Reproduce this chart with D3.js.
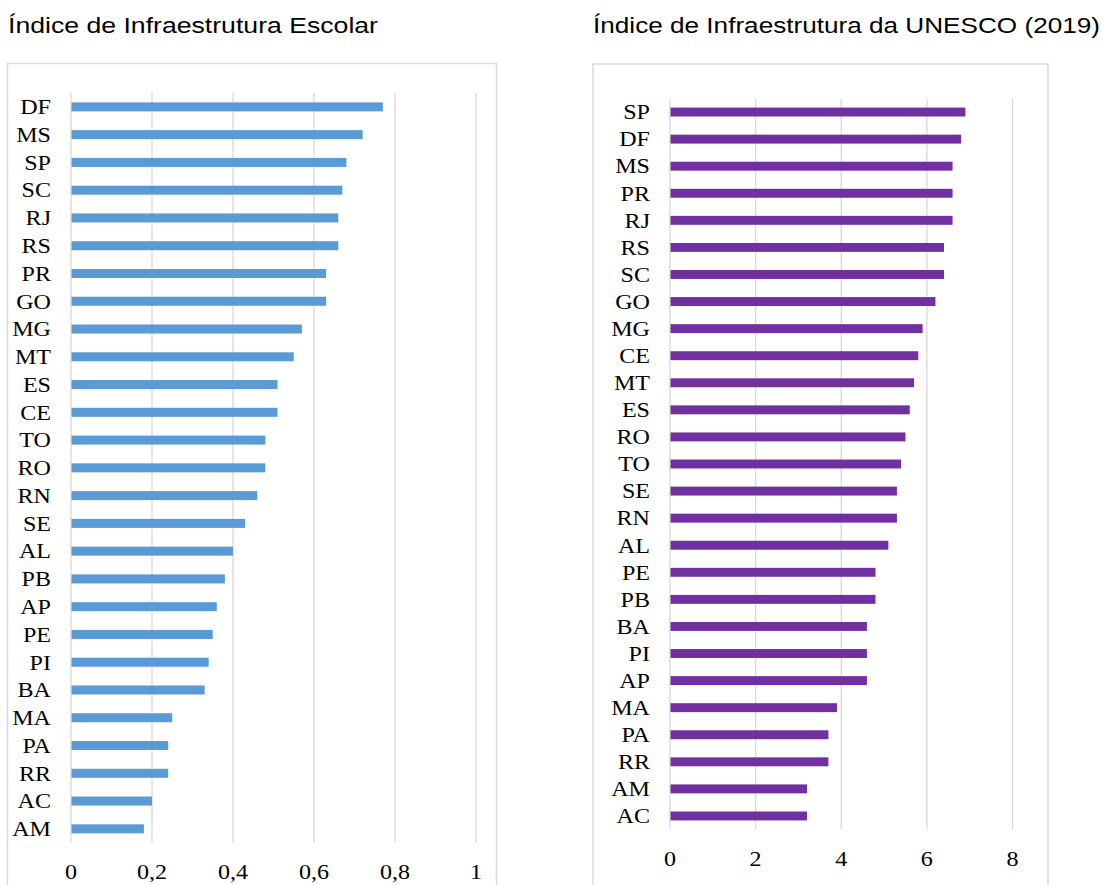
<!DOCTYPE html>
<html>
<head>
<meta charset="utf-8">
<script src="https://cdn.jsdelivr.net/npm/d3@7"></script>
<style>
  html, body { margin: 0; padding: 0; background: #fff; }
  svg { display: block; }
</style>
</head>
<body>
<svg id="chart" width="1116" height="885"></svg>
<script>
// ---- Data ----
const leftTitle = "Índice de Infraestrutura Escolar";
const leftCategories = ["DF","MS","SP","SC","RJ","RS","PR","GO","MG","MT","ES","CE","TO","RO","RN","SE","AL","PB","AP","PE","PI","BA","MA","PA","RR","AC","AM"];
const leftValues = [0.77,0.72,0.68,0.67,0.66,0.66,0.63,0.63,0.57,0.55,0.51,0.51,0.48,0.48,0.46,0.43,0.40,0.38,0.36,0.35,0.34,0.33,0.25,0.24,0.24,0.20,0.18];
const leftTicks = [0, 0.2, 0.4, 0.6, 0.8, 1];
const leftTickLabels = ["0", "0,2", "0,4", "0,6", "0,8", "1"];

const rightTitle = "Índice de Infraestrutura da UNESCO (2019)";
const rightCategories = ["SP","DF","MS","PR","RJ","RS","SC","GO","MG","CE","MT","ES","RO","TO","SE","RN","AL","PE","PB","BA","PI","AP","MA","PA","RR","AM","AC"];
const rightValues = [6.9,6.8,6.6,6.6,6.6,6.4,6.4,6.2,5.9,5.8,5.7,5.6,5.5,5.4,5.3,5.3,5.1,4.8,4.8,4.6,4.6,4.6,3.9,3.7,3.7,3.2,3.2];
const rightTicks = [0, 2, 4, 6, 8];
const rightTickLabels = ["0", "2", "4", "6", "8"];

// ---- Drawing ----
const svg = d3.select("#chart");
const SERIF = "'Liberation Serif', 'Times New Roman', serif";
const SX = 1.12; // horizontal stretch of serif labels

function drawPanel(o) {
  const g = svg.append("g");
  // title
  g.append("text")
    .attr("x", o.titleX).attr("y", 33)
    .attr("font-family", "'Liberation Sans', Arial, sans-serif")
    .attr("font-size", 22.5)
    .attr("fill", "#000")
    .attr("textLength", o.titleWidth)
    .attr("lengthAdjust", "spacingAndGlyphs")
    .text(o.title);
  // frame
  g.append("rect")
    .attr("x", o.box[0]).attr("y", o.box[1])
    .attr("width", o.box[2] - o.box[0]).attr("height", 900 - o.box[1])
    .attr("fill", "#fff").attr("stroke", "#d9d9d9").attr("stroke-width", 1.5);

  const x = d3.scaleLinear().domain(o.domain).range(o.xRange);
  const y = d3.scaleBand().domain(o.categories).range(o.yRange)
    .paddingInner(o.pad).paddingOuter(o.pad / 2);

  // gridlines
  g.append("g").selectAll("line").data(o.ticks).join("line")
    .attr("x1", d => x(d)).attr("x2", d => x(d))
    .attr("y1", o.yRange[0]).attr("y2", o.yRange[1])
    .attr("stroke", "#d9d9d9").attr("stroke-width", 1.3);

  // bars
  g.append("g").selectAll("rect").data(o.values).join("rect")
    .attr("x", x(0) + 0.5)
    .attr("y", (d, i) => y(o.categories[i]))
    .attr("width", d => x(d) - x(0) - 0.5)
    .attr("height", y.bandwidth())
    .attr("fill", o.color);

  // category labels
  g.append("g").selectAll("text").data(o.categories).join("text")
    .attr("transform", d => `translate(${x(0) - o.labelGap},${y(d) + y.bandwidth() / 2}) scale(${SX},1)`)
    .attr("dy", "0.34em")
    .attr("text-anchor", "end")
    .attr("font-family", SERIF)
    .attr("font-size", 21.5)
    .attr("fill", "#000")
    .text(d => d);

  // tick labels
  g.append("g").selectAll("text").data(o.ticks).join("text")
    .attr("transform", d => `translate(${x(d)},${o.yRange[1] + 36.5}) scale(${SX},1)`)
    .attr("text-anchor", "middle")
    .attr("font-family", SERIF)
    .attr("font-size", 21.5)
    .attr("fill", "#000")
    .text((d, i) => o.tickLabels[i]);
}

drawPanel({
  title: leftTitle, titleX: 8, titleWidth: 370,
  box: [7.5, 63.5, 496.5],
  categories: leftCategories, values: leftValues,
  ticks: leftTicks, tickLabels: leftTickLabels,
  domain: [0, 1], xRange: [71, 476],
  yRange: [93, 842.7], pad: 0.675,
  labelGap: 20, color: "#5B9BD5"
});

drawPanel({
  title: rightTitle, titleX: 593, titleWidth: 507,
  box: [593, 64, 1048],
  categories: rightCategories, values: rightValues,
  ticks: rightTicks, tickLabels: rightTickLabels,
  domain: [0, 8], xRange: [670, 1012.5],
  yRange: [98.5, 829.5], pad: 0.67,
  labelGap: 20, color: "#7030A0"
});
</script>
</body>
</html>
